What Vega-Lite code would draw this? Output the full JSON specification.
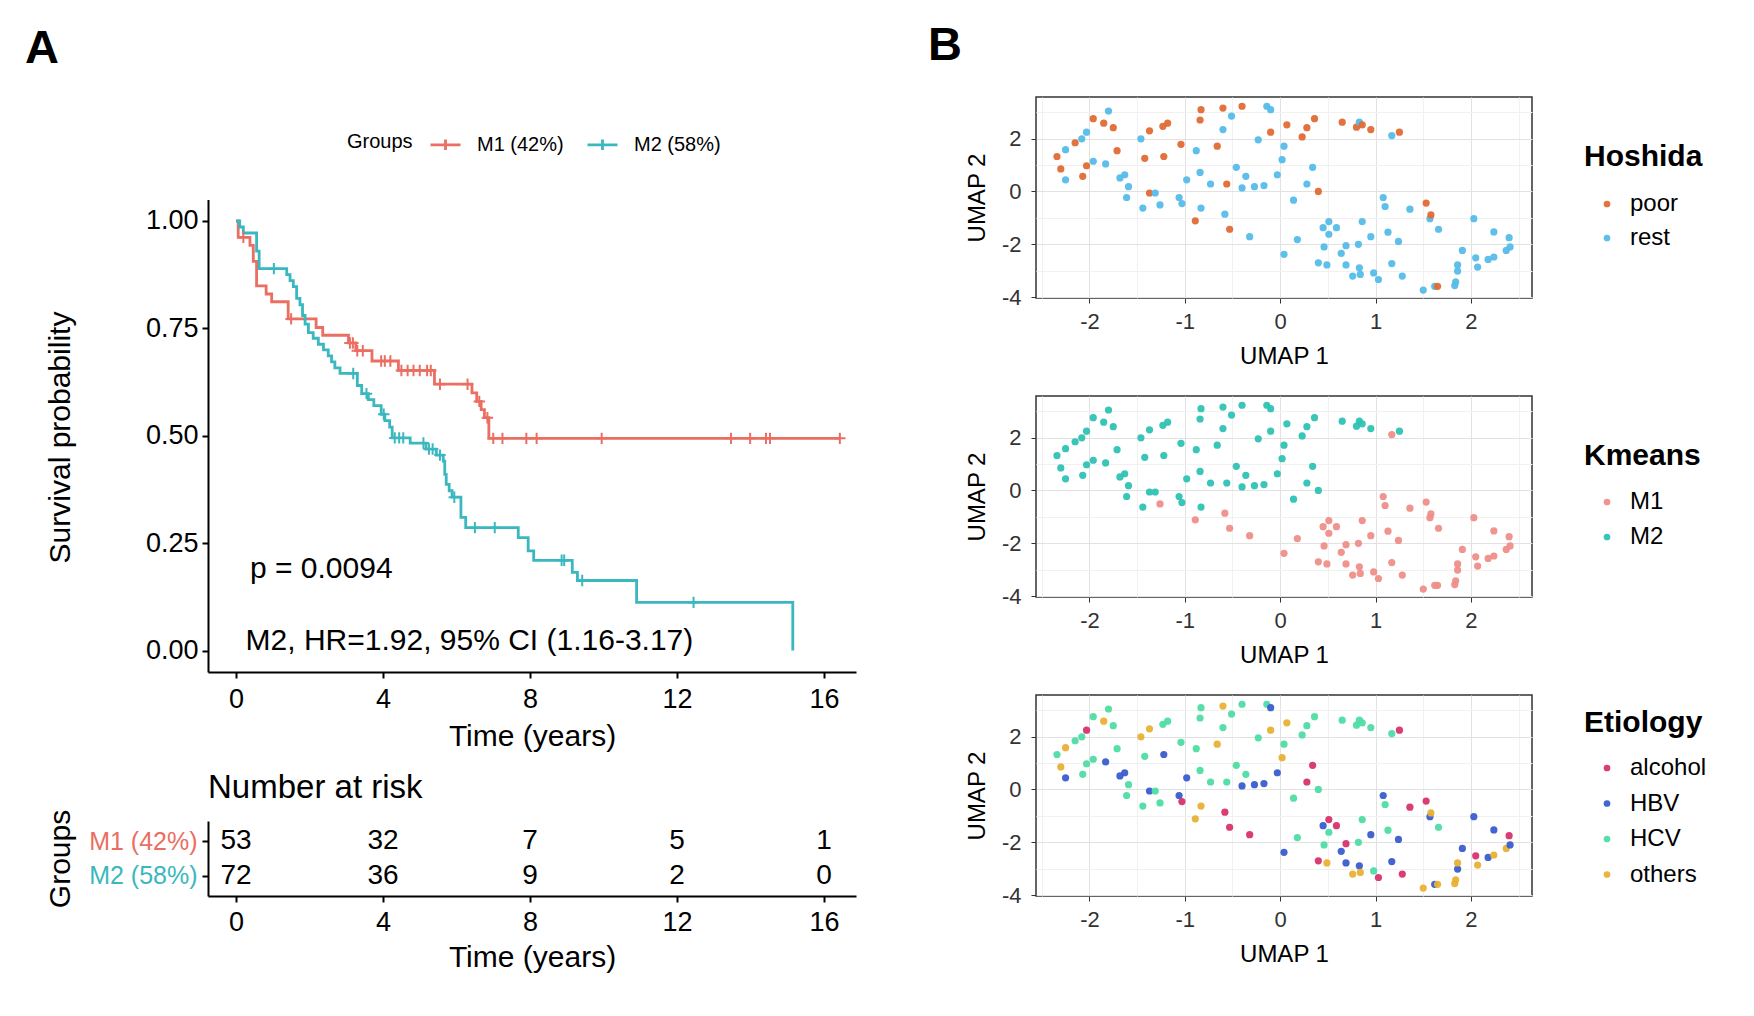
{
  "$schema": "https://vega.github.io/schema/vega-lite/v6.json",
  "padding": {"left": 25, "top": 21, "right": 10, "bottom": 10},
  "background": "white",
  "datasets": {
    "km": [
      {"group": "M1 (42%)", "t": 0, "s": 1.0},
      {"group": "M1 (42%)", "t": 0.06, "s": 0.962},
      {"group": "M1 (42%)", "t": 0.38, "s": 0.943},
      {"group": "M1 (42%)", "t": 0.47, "s": 0.906},
      {"group": "M1 (42%)", "t": 0.56, "s": 0.849},
      {"group": "M1 (42%)", "t": 0.82, "s": 0.83},
      {"group": "M1 (42%)", "t": 0.97, "s": 0.812},
      {"group": "M1 (42%)", "t": 1.42, "s": 0.772},
      {"group": "M1 (42%)", "t": 2.18, "s": 0.752},
      {"group": "M1 (42%)", "t": 2.36, "s": 0.734},
      {"group": "M1 (42%)", "t": 3.06, "s": 0.716},
      {"group": "M1 (42%)", "t": 3.26, "s": 0.698},
      {"group": "M1 (42%)", "t": 3.7, "s": 0.674},
      {"group": "M1 (42%)", "t": 4.42, "s": 0.652},
      {"group": "M1 (42%)", "t": 5.4, "s": 0.62},
      {"group": "M1 (42%)", "t": 6.42, "s": 0.6},
      {"group": "M1 (42%)", "t": 6.55, "s": 0.58},
      {"group": "M1 (42%)", "t": 6.67, "s": 0.561},
      {"group": "M1 (42%)", "t": 6.76, "s": 0.542},
      {"group": "M1 (42%)", "t": 6.88, "s": 0.494},
      {"group": "M1 (42%)", "t": 16.43, "s": 0.494},
      {"group": "M2 (58%)", "t": 0, "s": 1.0},
      {"group": "M2 (58%)", "t": 0.1, "s": 0.986},
      {"group": "M2 (58%)", "t": 0.2, "s": 0.972},
      {"group": "M2 (58%)", "t": 0.56, "s": 0.93},
      {"group": "M2 (58%)", "t": 0.63, "s": 0.889},
      {"group": "M2 (58%)", "t": 1.38, "s": 0.875},
      {"group": "M2 (58%)", "t": 1.47, "s": 0.861},
      {"group": "M2 (58%)", "t": 1.56, "s": 0.847},
      {"group": "M2 (58%)", "t": 1.65, "s": 0.82},
      {"group": "M2 (58%)", "t": 1.74, "s": 0.805},
      {"group": "M2 (58%)", "t": 1.81, "s": 0.78},
      {"group": "M2 (58%)", "t": 1.88, "s": 0.76},
      {"group": "M2 (58%)", "t": 1.97, "s": 0.74},
      {"group": "M2 (58%)", "t": 2.1, "s": 0.727},
      {"group": "M2 (58%)", "t": 2.24, "s": 0.713},
      {"group": "M2 (58%)", "t": 2.38, "s": 0.7},
      {"group": "M2 (58%)", "t": 2.51, "s": 0.686},
      {"group": "M2 (58%)", "t": 2.6, "s": 0.672},
      {"group": "M2 (58%)", "t": 2.69, "s": 0.658},
      {"group": "M2 (58%)", "t": 2.83, "s": 0.645},
      {"group": "M2 (58%)", "t": 3.3, "s": 0.617},
      {"group": "M2 (58%)", "t": 3.42, "s": 0.598},
      {"group": "M2 (58%)", "t": 3.6, "s": 0.584},
      {"group": "M2 (58%)", "t": 3.75, "s": 0.57},
      {"group": "M2 (58%)", "t": 3.95, "s": 0.55},
      {"group": "M2 (58%)", "t": 4.05, "s": 0.535},
      {"group": "M2 (58%)", "t": 4.18, "s": 0.52},
      {"group": "M2 (58%)", "t": 4.25, "s": 0.495},
      {"group": "M2 (58%)", "t": 4.74, "s": 0.483},
      {"group": "M2 (58%)", "t": 5.17, "s": 0.469},
      {"group": "M2 (58%)", "t": 5.45, "s": 0.455},
      {"group": "M2 (58%)", "t": 5.64, "s": 0.441},
      {"group": "M2 (58%)", "t": 5.68, "s": 0.41},
      {"group": "M2 (58%)", "t": 5.72, "s": 0.387},
      {"group": "M2 (58%)", "t": 5.8, "s": 0.372},
      {"group": "M2 (58%)", "t": 5.88, "s": 0.357},
      {"group": "M2 (58%)", "t": 6.12, "s": 0.31},
      {"group": "M2 (58%)", "t": 6.25, "s": 0.286},
      {"group": "M2 (58%)", "t": 7.68, "s": 0.263},
      {"group": "M2 (58%)", "t": 7.95, "s": 0.232},
      {"group": "M2 (58%)", "t": 8.1, "s": 0.21},
      {"group": "M2 (58%)", "t": 9.15, "s": 0.182},
      {"group": "M2 (58%)", "t": 9.29, "s": 0.163},
      {"group": "M2 (58%)", "t": 10.9, "s": 0.112},
      {"group": "M2 (58%)", "t": 15.15, "s": 0.0}
    ],
    "cens": [
      {"group": "M1 (42%)", "t": 0.2, "s": 0.962},
      {"group": "M1 (42%)", "t": 1.5, "s": 0.772},
      {"group": "M1 (42%)", "t": 3.1, "s": 0.716},
      {"group": "M1 (42%)", "t": 3.18, "s": 0.716},
      {"group": "M1 (42%)", "t": 3.3, "s": 0.698},
      {"group": "M1 (42%)", "t": 3.45, "s": 0.698},
      {"group": "M1 (42%)", "t": 3.95, "s": 0.674},
      {"group": "M1 (42%)", "t": 4.05, "s": 0.674},
      {"group": "M1 (42%)", "t": 4.2, "s": 0.674},
      {"group": "M1 (42%)", "t": 4.5, "s": 0.652},
      {"group": "M1 (42%)", "t": 4.67, "s": 0.652},
      {"group": "M1 (42%)", "t": 4.83, "s": 0.652},
      {"group": "M1 (42%)", "t": 5.0, "s": 0.652},
      {"group": "M1 (42%)", "t": 5.2, "s": 0.652},
      {"group": "M1 (42%)", "t": 5.3, "s": 0.652},
      {"group": "M1 (42%)", "t": 5.55, "s": 0.62},
      {"group": "M1 (42%)", "t": 6.3, "s": 0.62},
      {"group": "M1 (42%)", "t": 6.62, "s": 0.58},
      {"group": "M1 (42%)", "t": 6.84, "s": 0.542},
      {"group": "M1 (42%)", "t": 7.0, "s": 0.494},
      {"group": "M1 (42%)", "t": 7.25, "s": 0.494},
      {"group": "M1 (42%)", "t": 7.9, "s": 0.494},
      {"group": "M1 (42%)", "t": 8.18, "s": 0.494},
      {"group": "M1 (42%)", "t": 9.95, "s": 0.494},
      {"group": "M1 (42%)", "t": 13.47, "s": 0.494},
      {"group": "M1 (42%)", "t": 13.99, "s": 0.494},
      {"group": "M1 (42%)", "t": 14.42, "s": 0.494},
      {"group": "M1 (42%)", "t": 14.53, "s": 0.494},
      {"group": "M1 (42%)", "t": 16.43, "s": 0.494},
      {"group": "M2 (58%)", "t": 1.03, "s": 0.889},
      {"group": "M2 (58%)", "t": 3.19, "s": 0.645},
      {"group": "M2 (58%)", "t": 3.55, "s": 0.598},
      {"group": "M2 (58%)", "t": 4.02, "s": 0.55},
      {"group": "M2 (58%)", "t": 4.32, "s": 0.495},
      {"group": "M2 (58%)", "t": 4.44, "s": 0.495},
      {"group": "M2 (58%)", "t": 4.55, "s": 0.495},
      {"group": "M2 (58%)", "t": 5.1, "s": 0.483},
      {"group": "M2 (58%)", "t": 5.25, "s": 0.469},
      {"group": "M2 (58%)", "t": 5.35, "s": 0.469},
      {"group": "M2 (58%)", "t": 5.55, "s": 0.455},
      {"group": "M2 (58%)", "t": 5.94, "s": 0.357},
      {"group": "M2 (58%)", "t": 6.5, "s": 0.286},
      {"group": "M2 (58%)", "t": 7.04, "s": 0.286},
      {"group": "M2 (58%)", "t": 8.86, "s": 0.21},
      {"group": "M2 (58%)", "t": 8.93, "s": 0.21},
      {"group": "M2 (58%)", "t": 9.42, "s": 0.163},
      {"group": "M2 (58%)", "t": 12.45, "s": 0.112}
    ],
    "ann": [
      {"t": 0.38, "s": 0.19, "label": "p = 0.0094"},
      {"t": 0.26, "s": 0.023, "label": "M2, HR=1.92, 95% CI (1.16-3.17)"}
    ],
    "risk": [
      {"group": "M1 (42%)", "t": 0, "n": 53},
      {"group": "M1 (42%)", "t": 4, "n": 32},
      {"group": "M1 (42%)", "t": 8, "n": 7},
      {"group": "M1 (42%)", "t": 12, "n": 5},
      {"group": "M1 (42%)", "t": 16, "n": 1},
      {"group": "M2 (58%)", "t": 0, "n": 72},
      {"group": "M2 (58%)", "t": 4, "n": 36},
      {"group": "M2 (58%)", "t": 8, "n": 9},
      {"group": "M2 (58%)", "t": 12, "n": 2},
      {"group": "M2 (58%)", "t": 16, "n": 0}
    ],
    "umap": [
      {"u1": -2.34, "u2": 1.32, "h": "poor", "k": "M2", "e": "HCV"},
      {"u1": -2.30, "u2": 0.85, "h": "poor", "k": "M2", "e": "others"},
      {"u1": -2.25, "u2": 1.58, "h": "rest", "k": "M2", "e": "others"},
      {"u1": -2.25, "u2": 0.44, "h": "rest", "k": "M2", "e": "HBV"},
      {"u1": -2.15, "u2": 1.84, "h": "poor", "k": "M2", "e": "HCV"},
      {"u1": -2.08, "u2": 1.99, "h": "rest", "k": "M2", "e": "HCV"},
      {"u1": -2.03, "u2": 2.24, "h": "rest", "k": "M2", "e": "alcohol"},
      {"u1": -2.07, "u2": 0.57, "h": "poor", "k": "M2", "e": "HCV"},
      {"u1": -2.03, "u2": 0.97, "h": "poor", "k": "M2", "e": "HCV"},
      {"u1": -1.96, "u2": 2.75, "h": "poor", "k": "M2", "e": "HCV"},
      {"u1": -1.96, "u2": 1.14, "h": "rest", "k": "M2", "e": "HCV"},
      {"u1": -1.85, "u2": 2.58, "h": "poor", "k": "M2", "e": "others"},
      {"u1": -1.83, "u2": 1.04, "h": "rest", "k": "M2", "e": "HBV"},
      {"u1": -1.80, "u2": 3.04, "h": "rest", "k": "M2", "e": "HCV"},
      {"u1": -1.75, "u2": 2.41, "h": "poor", "k": "M2", "e": "HCV"},
      {"u1": -1.71, "u2": 1.54, "h": "poor", "k": "M2", "e": "HCV"},
      {"u1": -1.68, "u2": 0.51, "h": "rest", "k": "M2", "e": "HBV"},
      {"u1": -1.63, "u2": 0.63, "h": "rest", "k": "M2", "e": "HBV"},
      {"u1": -1.59, "u2": 0.18, "h": "rest", "k": "M2", "e": "HCV"},
      {"u1": -1.61, "u2": -0.23, "h": "rest", "k": "M2", "e": "HCV"},
      {"u1": -1.46, "u2": 1.99, "h": "rest", "k": "M2", "e": "others"},
      {"u1": -1.44, "u2": -0.63, "h": "rest", "k": "M2", "e": "HCV"},
      {"u1": -1.42, "u2": 1.25, "h": "poor", "k": "M2", "e": "HCV"},
      {"u1": -1.37, "u2": 2.29, "h": "poor", "k": "M2", "e": "others"},
      {"u1": -1.37, "u2": -0.06, "h": "poor", "k": "M2", "e": "HBV"},
      {"u1": -1.31, "u2": -0.06, "h": "rest", "k": "M2", "e": "HCV"},
      {"u1": -1.26, "u2": -0.51, "h": "rest", "k": "M1", "e": "HCV"},
      {"u1": -1.23, "u2": 2.46, "h": "poor", "k": "M2", "e": "HCV"},
      {"u1": -1.22, "u2": 1.32, "h": "poor", "k": "M2", "e": "HBV"},
      {"u1": -1.18, "u2": 2.58, "h": "poor", "k": "M2", "e": "HCV"},
      {"u1": -1.06, "u2": -0.23, "h": "rest", "k": "M2", "e": "HBV"},
      {"u1": -1.04, "u2": 1.78, "h": "poor", "k": "M2", "e": "HCV"},
      {"u1": -1.03, "u2": -0.46, "h": "rest", "k": "M2", "e": "alcohol"},
      {"u1": -0.98, "u2": 0.44, "h": "rest", "k": "M2", "e": "HBV"},
      {"u1": -0.89, "u2": -1.11, "h": "poor", "k": "M1", "e": "others"},
      {"u1": -0.88, "u2": 1.54, "h": "rest", "k": "M2", "e": "HCV"},
      {"u1": -0.84, "u2": 0.72, "h": "rest", "k": "M2", "e": "HCV"},
      {"u1": -0.84, "u2": 2.70, "h": "poor", "k": "M2", "e": "HCV"},
      {"u1": -0.83, "u2": 3.09, "h": "poor", "k": "M2", "e": "HCV"},
      {"u1": -0.83, "u2": -0.63, "h": "rest", "k": "M2", "e": "others"},
      {"u1": -0.73, "u2": 0.28, "h": "rest", "k": "M2", "e": "HCV"},
      {"u1": -0.66, "u2": 1.71, "h": "poor", "k": "M2", "e": "others"},
      {"u1": -0.60, "u2": 3.15, "h": "poor", "k": "M2", "e": "others"},
      {"u1": -0.60, "u2": 2.34, "h": "rest", "k": "M2", "e": "HCV"},
      {"u1": -0.58, "u2": -0.86, "h": "rest", "k": "M1", "e": "alcohol"},
      {"u1": -0.56, "u2": 0.28, "h": "poor", "k": "M2", "e": "HCV"},
      {"u1": -0.53, "u2": -1.43, "h": "poor", "k": "M1", "e": "alcohol"},
      {"u1": -0.51, "u2": 2.85, "h": "rest", "k": "M2", "e": "HCV"},
      {"u1": -0.46, "u2": 0.91, "h": "rest", "k": "M2", "e": "HCV"},
      {"u1": -0.40, "u2": 0.13, "h": "rest", "k": "M2", "e": "HBV"},
      {"u1": -0.40, "u2": 3.22, "h": "poor", "k": "M2", "e": "HCV"},
      {"u1": -0.36, "u2": 0.57, "h": "rest", "k": "M2", "e": "HCV"},
      {"u1": -0.32, "u2": -1.71, "h": "rest", "k": "M1", "e": "alcohol"},
      {"u1": -0.27, "u2": 0.18, "h": "rest", "k": "M2", "e": "HBV"},
      {"u1": -0.23, "u2": 1.95, "h": "rest", "k": "M2", "e": "HCV"},
      {"u1": -0.17, "u2": 0.22, "h": "rest", "k": "M2", "e": "HBV"},
      {"u1": -0.14, "u2": 3.22, "h": "rest", "k": "M2", "e": "HCV"},
      {"u1": -0.10, "u2": 3.09, "h": "rest", "k": "M2", "e": "HBV"},
      {"u1": -0.10, "u2": 2.24, "h": "poor", "k": "M2", "e": "others"},
      {"u1": -0.03, "u2": 0.63, "h": "rest", "k": "M2", "e": "HBV"},
      {"u1": 0.02, "u2": 1.20, "h": "rest", "k": "M2", "e": "others"},
      {"u1": 0.04, "u2": 1.71, "h": "rest", "k": "M2", "e": "HCV"},
      {"u1": 0.04, "u2": -2.38, "h": "rest", "k": "M1", "e": "HBV"},
      {"u1": 0.07, "u2": 2.52, "h": "poor", "k": "M2", "e": "others"},
      {"u1": 0.14, "u2": -0.33, "h": "rest", "k": "M2", "e": "HCV"},
      {"u1": 0.18, "u2": -1.82, "h": "rest", "k": "M1", "e": "HCV"},
      {"u1": 0.23, "u2": 2.06, "h": "poor", "k": "M2", "e": "HCV"},
      {"u1": 0.28, "u2": 2.41, "h": "poor", "k": "M2", "e": "HCV"},
      {"u1": 0.28, "u2": 0.28, "h": "rest", "k": "M2", "e": "alcohol"},
      {"u1": 0.34, "u2": 0.91, "h": "rest", "k": "M2", "e": "alcohol"},
      {"u1": 0.36, "u2": 2.75, "h": "poor", "k": "M2", "e": "HCV"},
      {"u1": 0.40, "u2": 0.0, "h": "poor", "k": "M2", "e": "HCV"},
      {"u1": 0.40, "u2": -2.70, "h": "rest", "k": "M1", "e": "alcohol"},
      {"u1": 0.45, "u2": -1.37, "h": "rest", "k": "M1", "e": "HBV"},
      {"u1": 0.46, "u2": -2.10, "h": "rest", "k": "M1", "e": "HCV"},
      {"u1": 0.49, "u2": -2.78, "h": "rest", "k": "M1", "e": "others"},
      {"u1": 0.51, "u2": -1.14, "h": "rest", "k": "M1", "e": "alcohol"},
      {"u1": 0.51, "u2": -1.62, "h": "rest", "k": "M1", "e": "HCV"},
      {"u1": 0.59, "u2": -1.37, "h": "rest", "k": "M1", "e": "alcohol"},
      {"u1": 0.64, "u2": -2.34, "h": "rest", "k": "M1", "e": "HBV"},
      {"u1": 0.65, "u2": 2.62, "h": "poor", "k": "M2", "e": "HCV"},
      {"u1": 0.69, "u2": -2.05, "h": "rest", "k": "M1", "e": "alcohol"},
      {"u1": 0.69, "u2": -2.78, "h": "rest", "k": "M1", "e": "HBV"},
      {"u1": 0.76, "u2": -3.20, "h": "rest", "k": "M1", "e": "others"},
      {"u1": 0.80, "u2": 2.43, "h": "poor", "k": "M2", "e": "HCV"},
      {"u1": 0.82, "u2": -2.00, "h": "rest", "k": "M1", "e": "HCV"},
      {"u1": 0.83, "u2": -2.89, "h": "rest", "k": "M1", "e": "HBV"},
      {"u1": 0.84, "u2": -3.14, "h": "rest", "k": "M1", "e": "others"},
      {"u1": 0.83, "u2": 2.62, "h": "rest", "k": "M2", "e": "HCV"},
      {"u1": 0.86, "u2": 2.52, "h": "poor", "k": "M2", "e": "HCV"},
      {"u1": 0.86, "u2": -1.14, "h": "rest", "k": "M1", "e": "HCV"},
      {"u1": 0.95, "u2": 2.34, "h": "poor", "k": "M2", "e": "HCV"},
      {"u1": 0.95, "u2": -1.71, "h": "rest", "k": "M1", "e": "HBV"},
      {"u1": 0.98, "u2": -3.08, "h": "rest", "k": "M1", "e": "HCV"},
      {"u1": 1.03, "u2": -3.33, "h": "rest", "k": "M1", "e": "alcohol"},
      {"u1": 1.08, "u2": -0.23, "h": "rest", "k": "M1", "e": "HBV"},
      {"u1": 1.10, "u2": -0.57, "h": "rest", "k": "M1", "e": "HCV"},
      {"u1": 1.13, "u2": -1.54, "h": "rest", "k": "M1", "e": "HCV"},
      {"u1": 1.17, "u2": 2.11, "h": "rest", "k": "M1", "e": "HCV"},
      {"u1": 1.17, "u2": -2.73, "h": "rest", "k": "M1", "e": "HBV"},
      {"u1": 1.24, "u2": -1.89, "h": "rest", "k": "M1", "e": "HBV"},
      {"u1": 1.25, "u2": 2.24, "h": "poor", "k": "M2", "e": "alcohol"},
      {"u1": 1.28, "u2": -3.20, "h": "rest", "k": "M1", "e": "alcohol"},
      {"u1": 1.36, "u2": -0.67, "h": "rest", "k": "M1", "e": "alcohol"},
      {"u1": 1.50, "u2": -3.73, "h": "rest", "k": "M1", "e": "others"},
      {"u1": 1.53, "u2": -0.44, "h": "poor", "k": "M1", "e": "alcohol"},
      {"u1": 1.57, "u2": -1.03, "h": "rest", "k": "M1", "e": "HBV"},
      {"u1": 1.58, "u2": -0.89, "h": "poor", "k": "M1", "e": "others"},
      {"u1": 1.62, "u2": -3.59, "h": "rest", "k": "M1", "e": "HBV"},
      {"u1": 1.65, "u2": -3.59, "h": "poor", "k": "M1", "e": "others"},
      {"u1": 1.66, "u2": -1.43, "h": "rest", "k": "M1", "e": "HCV"},
      {"u1": 1.83, "u2": -3.56, "h": "rest", "k": "M1", "e": "others"},
      {"u1": 1.84, "u2": -3.42, "h": "rest", "k": "M1", "e": "others"},
      {"u1": 1.86, "u2": -3.01, "h": "rest", "k": "M1", "e": "HBV"},
      {"u1": 1.86, "u2": -2.78, "h": "rest", "k": "M1", "e": "others"},
      {"u1": 1.91, "u2": -2.23, "h": "rest", "k": "M1", "e": "HBV"},
      {"u1": 2.03, "u2": -1.03, "h": "rest", "k": "M1", "e": "HBV"},
      {"u1": 2.05, "u2": -2.51, "h": "rest", "k": "M1", "e": "alcohol"},
      {"u1": 2.07, "u2": -2.86, "h": "rest", "k": "M1", "e": "others"},
      {"u1": 2.18, "u2": -2.57, "h": "rest", "k": "M1", "e": "HBV"},
      {"u1": 2.24, "u2": -2.48, "h": "rest", "k": "M1", "e": "others"},
      {"u1": 2.24, "u2": -1.53, "h": "rest", "k": "M1", "e": "HBV"},
      {"u1": 2.37, "u2": -2.23, "h": "rest", "k": "M1", "e": "others"},
      {"u1": 2.40, "u2": -1.75, "h": "rest", "k": "M1", "e": "alcohol"},
      {"u1": 2.41, "u2": -2.10, "h": "rest", "k": "M1", "e": "HBV"}
    ]
  },
  "spacing": 72,
  "resolve": {"scale": {"color": "independent"}, "legend": {"color": "independent"}},
  "hconcat": [
    {
      "title": {"text": "A", "anchor": "start", "frame": "group", "fontSize": 47, "fontWeight": "bold", "dx": -183, "baseline": "alphabetic", "offset": -13},
      "bounds": "flush",
      "spacing": 149,
      "vconcat": [
        {
          "width": 648, "height": 575,
          "encoding": {
            "x": {"field": "t", "type": "quantitative",
              "scale": {"domain": [-0.762, 16.87], "nice": false, "zero": false},
              "axis": {"values": [0, 4, 8, 12, 16], "title": "Time (years)", "domainColor": "#000", "domainWidth": 2, "tickColor": "#000", "tickWidth": 2, "tickSize": 6, "labelFontSize": 27, "labelPadding": 8, "titleFontSize": 30, "titleY": 49}},
            "y": {"field": "s", "type": "quantitative",
              "scale": {"domain": [-0.05, 1.05], "range": [575, 102.5], "nice": false, "zero": false},
              "axis": {"values": [0, 0.25, 0.5, 0.75, 1], "format": ".2f", "title": "Survival probability", "domainColor": "#000", "domainWidth": 2, "tickColor": "#000", "tickWidth": 2, "tickSize": 6, "labelFontSize": 27, "labelPadding": 4, "titleFontSize": 30, "titleX": -148, "titleY": 340, "titleBaseline": "middle"}}
          },
          "layer": [
            {
              "data": {"name": "km"},
              "mark": {"type": "line", "interpolate": "step-after", "strokeWidth": 2.8},
              "encoding": {
                "color": {"field": "group", "type": "nominal",
                  "scale": {"domain": ["M1 (42%)", "M2 (58%)"], "range": ["#EB6E62", "#3BB7C0"]},
                  "legend": {"orient": "none", "legendX": 139, "legendY": 31, "direction": "horizontal", "title": "Groups", "titleOrient": "left", "titleFontSize": 20, "titleFontWeight": "normal", "titleBaseline": "middle", "titlePadding": 16, "labelFontSize": 20, "labelOffset": 15, "columnPadding": 17, "symbolType": "M-1,0H1M0,-0.35V0.35", "symbolSize": 900, "symbolStrokeWidth": 2.8}}
              }
            },
            {
              "data": {"name": "cens"},
              "mark": {"type": "point", "shape": "M-1,0H1M0,-1V1", "filled": false, "strokeWidth": 2, "size": 130, "opacity": 1},
              "encoding": {
                "color": {"field": "group", "type": "nominal"}
              }
            },
            {
              "data": {"name": "ann"},
              "mark": {"type": "text", "align": "left", "baseline": "middle", "fontSize": 30, "color": "#000"},
              "encoding": {"text": {"field": "label", "type": "nominal"}}
            }
          ]
        },
        {
          "width": 648, "height": 75,
          "title": {"text": "Number at risk", "anchor": "start", "frame": "group", "fontSize": 33, "fontWeight": "normal", "baseline": "alphabetic", "offset": -21.5},
          "data": {"name": "risk"},
          "mark": {"type": "text", "fontSize": 28, "color": "#000"},
          "encoding": {
            "x": {"field": "t", "type": "quantitative",
              "scale": {"domain": [-0.762, 16.87], "nice": false, "zero": false},
              "axis": {"values": [0, 4, 8, 12, 16], "title": "Time (years)", "domainColor": "#000", "domainWidth": 2, "tickColor": "#000", "tickWidth": 2, "tickSize": 6, "labelFontSize": 27, "labelPadding": 7, "titleFontSize": 30, "titleY": 46}},
            "y": {"field": "group", "type": "nominal",
              "scale": {"domain": ["M1 (42%)", "M2 (58%)"], "padding": 0.6},
              "axis": {"title": "Groups", "domainColor": "#000", "domainWidth": 2, "tickColor": "#000", "tickWidth": 2, "tickSize": 6, "labelFontSize": 25, "labelPadding": 5, "titleFontSize": 30, "titleX": -148, "titleBaseline": "middle",
                "labelColor": {"condition": {"test": "datum.value == 'M1 (42%)'", "value": "#EB6E62"}, "value": "#3BB7C0"}}},
            "text": {"field": "n", "type": "quantitative"}
          }
        }
      ]
    },
    {
      "title": {"text": "B", "anchor": "start", "frame": "group", "fontSize": 47, "fontWeight": "bold", "dx": -108, "baseline": "alphabetic", "offset": -10.5},
      "bounds": "flush",
      "spacing": 98,
      "resolve": {"scale": {"color": "independent"}, "legend": {"color": "independent"}},
      "vconcat": [
        {
          "width": 496, "height": 201,
          "view": {"stroke": "#333333", "strokeWidth": 1.5},
          "data": {"name": "umap"},
          "mark": {"type": "circle", "size": 52, "opacity": 0.95},
          "encoding": {
            "x": {"field": "u1", "type": "quantitative", "scale": {"domain": [-2.56, 2.64], "nice": false, "zero": false},
              "axis": {"values": [-2.5, -2, -1.5, -1, -0.5, 0, 0.5, 1, 1.5, 2, 2.5], "labelExpr": "datum.value % 1 == 0 ? '' + datum.value : ''", "title": "UMAP 1", "grid": true, "gridColor": {"condition": {"test": "datum.value % 1 != 0", "value": "#f1f1f1"}, "value": "#e2e2e2"}, "domain": false, "tickColor": "#333", "tickOpacity": {"condition": {"test": "datum.value % 1 != 0", "value": 0}, "value": 1}, "tickSize": 5, "labelFontSize": 22, "labelPadding": 8, "labelColor": "#333", "titleFontSize": 24, "titleY": 46}},
            "y": {"field": "u2", "type": "quantitative", "scale": {"domain": [-4.03, 3.57], "nice": false, "zero": false},
              "axis": {"values": [-4, -3, -2, -1, 0, 1, 2, 3], "labelExpr": "datum.value % 2 == 0 ? '' + datum.value : ''", "title": "UMAP 2", "grid": true, "gridColor": {"condition": {"test": "datum.value % 2 != 0", "value": "#f1f1f1"}, "value": "#e2e2e2"}, "domain": false, "tickColor": "#333", "tickOpacity": {"condition": {"test": "datum.value % 2 != 0", "value": 0}, "value": 1}, "tickSize": 5, "labelFontSize": 22, "labelPadding": 10, "labelColor": "#333", "titleFontSize": 24, "titleX": -59, "titleBaseline": "middle"}},
            "color": {"field": "h", "type": "nominal", "scale": {"domain": ["poor", "rest"], "range": ["#E06A34", "#56BCEA"]},
              "legend": {"orient": "none", "legendX": 548, "legendY": 45, "title": "Hoshida", "titleFontSize": 30, "titleFontWeight": "bold", "titlePadding": 20, "labelFontSize": 24, "labelOffset": 11, "symbolOffset": 11, "symbolSize": 45, "symbolType": "circle", "rowPadding": 10}}
          }
        },
        {
          "width": 496, "height": 201,
          "view": {"stroke": "#333333", "strokeWidth": 1.5},
          "data": {"name": "umap"},
          "mark": {"type": "circle", "size": 52, "opacity": 0.95},
          "encoding": {
            "x": {"field": "u1", "type": "quantitative", "scale": {"domain": [-2.56, 2.64], "nice": false, "zero": false},
              "axis": {"values": [-2.5, -2, -1.5, -1, -0.5, 0, 0.5, 1, 1.5, 2, 2.5], "labelExpr": "datum.value % 1 == 0 ? '' + datum.value : ''", "title": "UMAP 1", "grid": true, "gridColor": {"condition": {"test": "datum.value % 1 != 0", "value": "#f1f1f1"}, "value": "#e2e2e2"}, "domain": false, "tickColor": "#333", "tickOpacity": {"condition": {"test": "datum.value % 1 != 0", "value": 0}, "value": 1}, "tickSize": 5, "labelFontSize": 22, "labelPadding": 8, "labelColor": "#333", "titleFontSize": 24, "titleY": 46}},
            "y": {"field": "u2", "type": "quantitative", "scale": {"domain": [-4.03, 3.57], "nice": false, "zero": false},
              "axis": {"values": [-4, -3, -2, -1, 0, 1, 2, 3], "labelExpr": "datum.value % 2 == 0 ? '' + datum.value : ''", "title": "UMAP 2", "grid": true, "gridColor": {"condition": {"test": "datum.value % 2 != 0", "value": "#f1f1f1"}, "value": "#e2e2e2"}, "domain": false, "tickColor": "#333", "tickOpacity": {"condition": {"test": "datum.value % 2 != 0", "value": 0}, "value": 1}, "tickSize": 5, "labelFontSize": 22, "labelPadding": 10, "labelColor": "#333", "titleFontSize": 24, "titleX": -59, "titleBaseline": "middle"}},
            "color": {"field": "k", "type": "nominal", "scale": {"domain": ["M1", "M2"], "range": ["#EE8E88", "#2EC2B4"]},
              "legend": {"orient": "none", "legendX": 548, "legendY": 45, "title": "Kmeans", "titleFontSize": 30, "titleFontWeight": "bold", "titlePadding": 19, "labelFontSize": 24, "labelOffset": 11, "symbolOffset": 11, "symbolSize": 45, "symbolType": "circle", "rowPadding": 11}}
          }
        },
        {
          "width": 496, "height": 201,
          "view": {"stroke": "#333333", "strokeWidth": 1.5},
          "data": {"name": "umap"},
          "mark": {"type": "circle", "size": 52, "opacity": 0.95},
          "encoding": {
            "x": {"field": "u1", "type": "quantitative", "scale": {"domain": [-2.56, 2.64], "nice": false, "zero": false},
              "axis": {"values": [-2.5, -2, -1.5, -1, -0.5, 0, 0.5, 1, 1.5, 2, 2.5], "labelExpr": "datum.value % 1 == 0 ? '' + datum.value : ''", "title": "UMAP 1", "grid": true, "gridColor": {"condition": {"test": "datum.value % 1 != 0", "value": "#f1f1f1"}, "value": "#e2e2e2"}, "domain": false, "tickColor": "#333", "tickOpacity": {"condition": {"test": "datum.value % 1 != 0", "value": 0}, "value": 1}, "tickSize": 5, "labelFontSize": 22, "labelPadding": 8, "labelColor": "#333", "titleFontSize": 24, "titleY": 46}},
            "y": {"field": "u2", "type": "quantitative", "scale": {"domain": [-4.03, 3.57], "nice": false, "zero": false},
              "axis": {"values": [-4, -3, -2, -1, 0, 1, 2, 3], "labelExpr": "datum.value % 2 == 0 ? '' + datum.value : ''", "title": "UMAP 2", "grid": true, "gridColor": {"condition": {"test": "datum.value % 2 != 0", "value": "#f1f1f1"}, "value": "#e2e2e2"}, "domain": false, "tickColor": "#333", "tickOpacity": {"condition": {"test": "datum.value % 2 != 0", "value": 0}, "value": 1}, "tickSize": 5, "labelFontSize": 22, "labelPadding": 10, "labelColor": "#333", "titleFontSize": 24, "titleX": -59, "titleBaseline": "middle"}},
            "color": {"field": "e", "type": "nominal", "scale": {"domain": ["alcohol", "HBV", "HCV", "others"], "range": ["#D7336B", "#3A5DCF", "#4FDDA4", "#E9B134"]},
              "legend": {"orient": "none", "legendX": 548, "legendY": 13, "title": "Etiology", "titleFontSize": 30, "titleFontWeight": "bold", "titlePadding": 18, "labelFontSize": 24, "labelOffset": 11, "symbolOffset": 11, "symbolSize": 45, "symbolType": "circle", "rowPadding": 11.5}}
          }
        }
      ]
    }
  ],
  "config": {
    "font": "Liberation Sans",
    "view": {"stroke": null},
    "axis": {"labelColor": "#000", "titleColor": "#000", "titleFontWeight": "normal", "labelFlush": false, "labelOverlap": false, "grid": false},
    "legend": {"labelColor": "#000", "titleColor": "#000"},
    "title": {"color": "#000"}
  }
}
